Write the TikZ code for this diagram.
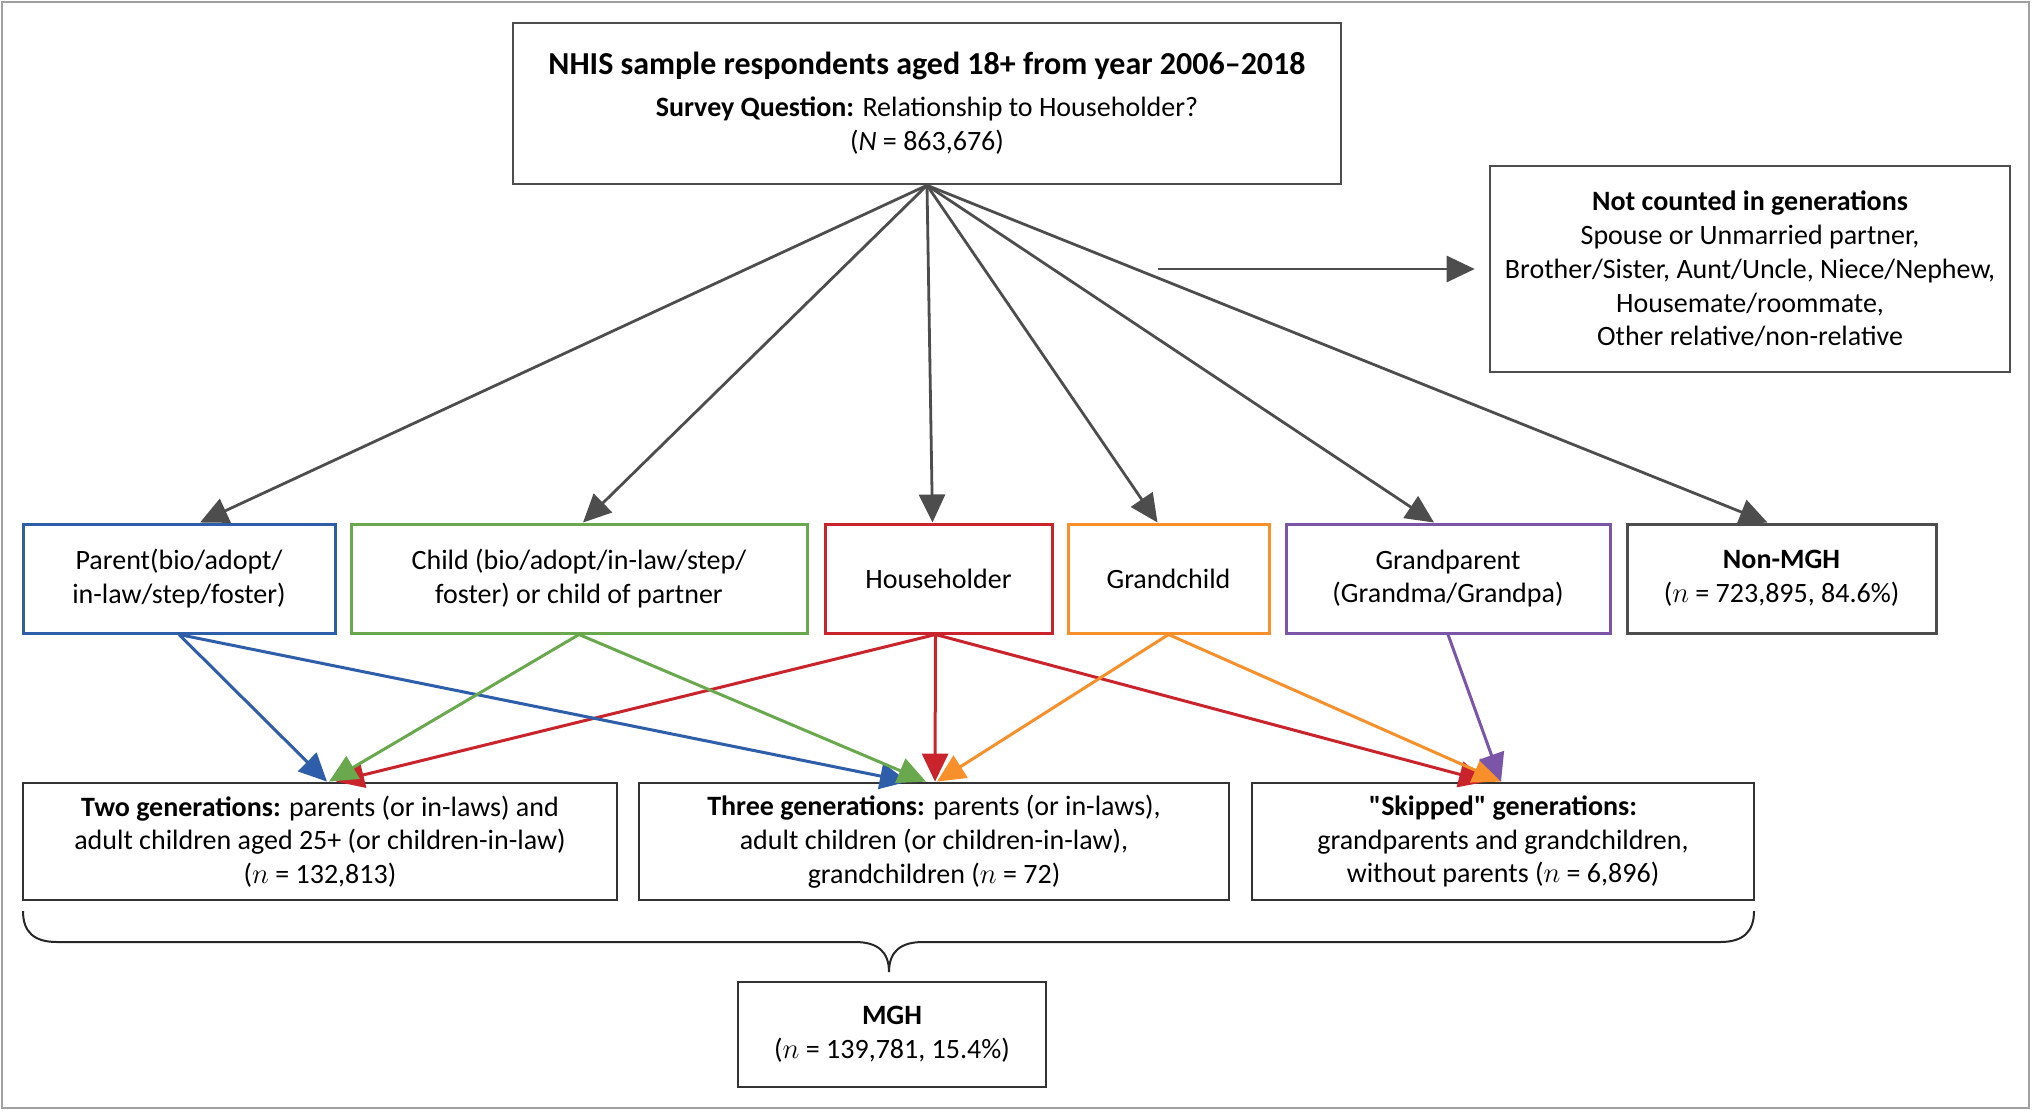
\documentclass[tikz,border=0pt]{standalone}
\usepackage{fontspec}
\setmainfont{Carlito}
\newfontfamily\qfont{Carlito}[Ligatures=TeXOff]
\usetikzlibrary{arrows.meta,calc}
\definecolor{cblue}{HTML}{2E5DA9}
\definecolor{cgreen}{HTML}{69A84D}
\definecolor{cred}{HTML}{C9232B}
\definecolor{corange}{HTML}{F7902A}
\definecolor{cpurple}{HTML}{7B56A8}
\definecolor{cgray}{HTML}{4D4D4D}
\definecolor{cframe}{HTML}{A0A0A0}
\begin{document}
\begin{tikzpicture}[x=0.5pt,y=-0.5pt,
  box/.style={draw=#1, line width=1.5pt, align=center, inner sep=0pt, fill=white,
    font=\fontsize{14pt}{16.9pt}\selectfont},
  box/.default=cgray,
  tip/.style={-{Triangle[length=14pt,width=13pt]}},
  garr/.style={tip, draw=cgray, fill=cgray, line width=1.4pt},
  carr/.style={tip, draw=#1, line width=1.5pt}]
\useasboundingbox (0,0) rectangle (2033,1110);
\draw[cframe, line width=1pt] (1.5,1.5) rectangle (2029,1108);

% top row
\node[box=cgray, line width=1.3pt, minimum width=414pt, minimum height=80.5pt] (top) at (927,103.5)
  {{\fontsize{16pt}{19pt}\selectfont\bfseries NHIS sample respondents aged 18+ from year 2006–2018}\\[4pt]
   \textbf{Survey Question:} Relationship to Householder?\\
   (\textit{N} = 863,676)};
\node[box=cgray, line width=1.3pt, minimum width=260pt, minimum height=103pt] (nc) at (1750,269)
  {\textbf{Not counted in generations}\\
   Spouse or Unmarried partner,\\
   Brother/Sister, Aunt/Uncle, Niece/Nephew,\\
   Housemate/roommate,\\
   Other relative/non-relative};

% middle row
\node[box=cblue, minimum width=156pt, minimum height=54.5pt] (parent) at (179,578.5)
  {Parent(bio/adopt/\\in-law/step/foster)};
\node[box=cgreen, minimum width=228pt, minimum height=54.5pt] (child) at (579,578.5)
  {Child (bio/adopt/in-law/step/\\foster) or child of partner};
\node[box=cred, minimum width=113.5pt, minimum height=54.5pt] (hh) at (938.5,578.5)
  {Householder};
\node[box=corange, minimum width=100.5pt, minimum height=54.5pt] (gc) at (1168.5,578.5)
  {Grandchild};
\node[box=cpurple, minimum width=162pt, minimum height=54.5pt] (gp) at (1448,578.5)
  {Grandparent\\(Grandma/Grandpa)};
\node[box=cgray, minimum width=154.5pt, minimum height=54.5pt] (non) at (1781.5,578.5)
  {\textbf{Non-MGH}\\($n$ = 723,895, 84.6\%)};

% bottom row
\node[box=black!80, line width=1.4pt, minimum width=297pt, minimum height=58.5pt] (two) at (320,841.5)
  {\textbf{Two generations:} parents (or in-laws) and\\
   adult children aged 25+ (or children-in-law)\\
   ($n$ = 132,813)};
\node[box=black!80, line width=1.4pt, minimum width=295pt, minimum height=58.5pt] (three) at (934,841.5)
  {\textbf{Three generations:} parents (or in-laws),\\
   adult children (or children-in-law),\\
   grandchildren ($n$ = 72)};
\node[box=black!80, line width=1.4pt, minimum width=251pt, minimum height=58.5pt] (skip) at (1503,841.5)
  {{\qfont\bfseries "Skipped" generations:}\\
   grandparents and grandchildren,\\
   without parents ($n$ = 6,896)};
\node[box=black!80, line width=1.4pt, minimum width=154pt, minimum height=52.5pt] (mgh) at (892,1034.5)
  {\textbf{MGH}\\($n$ = 139,781, 15.4\%)};

% arrows from the top box
\draw[garr] (top.south) -- ($(parent.north)+(21,0)$);
\draw[garr] (top.south) -- ($(child.north)+(4,0)$);
\draw[garr] (top.south) -- ($(hh.north)+(-6,0)$);
\draw[garr] (top.south) -- ($(gc.north)+(-11,0)$);
\draw[garr] (top.south) -- ($(gp.north)+(-14,0)$);
\draw[garr] (top.south) -- ($(non.north)+(-14,0)$);
\coordinate (ncstart) at (1158,269);
\draw[garr, shorten >=7pt] (ncstart) -- (nc.west);

% coloured arrows
\draw[carr=cred] ($(hh.south)+(-3,0)$) -- ($(two.north)+(16,0)$);
\draw[carr=cred] ($(hh.south)+(-3,0)$) -- ($(three.north)+(1,0)$);
\draw[carr=cred] ($(hh.south)+(-3,0)$) -- ($(skip.north)+(-16,0)$);
\draw[carr=cblue] (parent.south) -- ($(two.north)+(7,0)$);
\draw[carr=cblue] (parent.south) -- ($(three.north)+(-26,0)$);
\draw[carr=cgreen] (child.south) -- ($(two.north)+(9,0)$);
\draw[carr=cgreen] (child.south) -- ($(three.north)+(-8,0)$);
\draw[carr=corange] (gc.south) -- ($(three.north)+(3,0)$);
\draw[carr=corange] (gc.south) -- ($(skip.north)+(-2,0)$);
\draw[carr=cpurple] (gp.south) -- ($(skip.north)+(-2,0)$);

% brace
\draw[black!85, line width=1pt]
  (23,911) .. controls (23,932) and (34,942) .. (57,942) -- (855,942)
  .. controls (878,942) and (889,952) .. (889,972)
  .. controls (889,952) and (900,942) .. (923,942) -- (1720,942)
  .. controls (1743,942) and (1754,932) .. (1754,911);
\end{tikzpicture}
\end{document}
